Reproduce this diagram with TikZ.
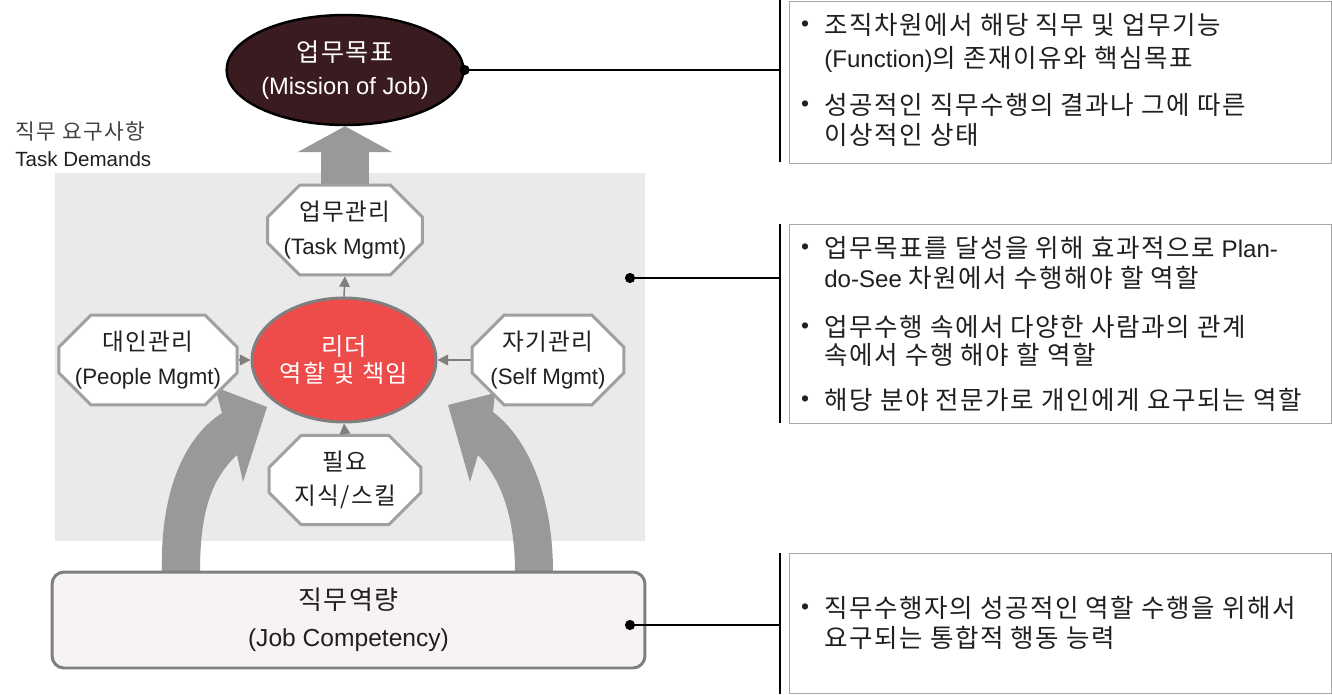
\documentclass[tikz,border=0pt]{standalone}
\usepackage{fontspec}
\setmainfont{Liberation Sans}
\newfontfamily\krfont[Scale=1.06,LetterSpace=6]{Noto Sans CJK KR}
\newcommand{\kor}[1]{{\krfont #1}}
\usetikzlibrary{shapes.geometric,shapes.misc,arrows.meta,backgrounds}

\definecolor{panelgray}{HTML}{EAEAEA}
\definecolor{arrowgray}{HTML}{999999}
\definecolor{tipgray}{HTML}{7F7F7F}
\definecolor{octgray}{HTML}{A0A0A0}
\definecolor{leaderred}{HTML}{EE4B4B}
\definecolor{missionbrown}{HTML}{3A1C20}
\definecolor{compfill}{HTML}{F7F3F5}
\definecolor{notegray}{HTML}{A6A6A6}
\definecolor{txt}{HTML}{231F20}

\tikzset{
  octbox/.style={chamfered rectangle, chamfered rectangle xsep=0.32cm,
    chamfered rectangle ysep=0.32cm, draw=octgray, line width=1.7pt,
    fill=white, minimum width=3.04cm, minimum height=1.68cm, inner sep=0pt,
    align=center, text=txt, font=\fontsize{12.7}{19}\selectfont},
  tiparrow/.style={draw=tipgray, line width=0.9pt,
    -{Triangle[length=6pt,width=6pt]}},
  link/.style={draw=black, line width=1.1pt},
  notebox/.style={draw=notegray, line width=0.8pt, fill=white,
    anchor=north west, minimum width=10.84cm, inner sep=0pt},
  notetext/.style={anchor=base west, inner sep=0pt, text=txt,
    font=\fontsize{13.7}{16}\selectfont},
  bulletmark/.style={inner sep=0pt, text=txt, font=\fontsize{13}{13}\selectfont}
}

\begin{document}
\begin{tikzpicture}[x=0.02cm, y=-0.02cm]
  \useasboundingbox (0,0) rectangle (1332,694);

  % goal, roles, competency
  \node[ellipse, draw=black, line width=1.4pt, fill=missionbrown, text=white,
    minimum width=4.08cm, minimum height=2.2cm, inner sep=0pt, align=center,
    font=\fontsize{13.5}{19}\selectfont] (mission) at (345,70)
    {\kor{업무목표}\\(Mission of Job)};
  \node[octbox] (task) at (345,230) {\kor{업무관리}\\(Task Mgmt)};
  \node[octbox] (people) at (148,360) {\kor{대인관리}\\(People Mgmt)};
  \node[octbox] (self) at (548,360) {\kor{자기관리}\\(Self Mgmt)};
  \node[octbox, minimum height=1.6cm] (skill) at (345,480)
    {\kor{필요}\\\kor{지식/스킬}};
  \node[ellipse, draw=tipgray, line width=1.7pt, fill=leaderred, text=white,
    minimum width=3.68cm, minimum height=2.48cm, inner sep=0pt, align=center,
    font=\fontsize{13}{15.5}\selectfont] (leader) at (344,360)
    {\kor{리더}\\\kor{역할 및 책임}};
  \node[rectangle, rounded corners=0.24cm, draw=tipgray, line width=1.7pt,
    fill=compfill, minimum width=11.86cm, minimum height=1.92cm, align=center,
    text=txt, font=\fontsize{14}{21}\selectfont] (comp) at (348.5,620)
    {\kor{직무역량}\\(Job Competency)};

  \node[anchor=base west, inner sep=0pt, text=txt!85,
    font=\fontsize{11.5}{11.5}\selectfont] (demandkr) at (15,139) {\kor{직무 요구사항}};
  \node[anchor=base west, inner sep=0pt, text=txt,
    font=\fontsize{11.7}{11.7}\selectfont] (demanden) at (15,166) {Task Demands};

  \draw[tiparrow] (leader.north) -- (task.south);
  \draw[tiparrow] (people.east) -- (leader.west);
  \draw[tiparrow] (self.west) -- (leader.east);
  \draw[tiparrow] (skill.north) -- (leader.south);

  % notes on the right
  \node[notebox, minimum height=3.24cm] (goalnote) at (789,1) {};
  \node[notebox, minimum height=3.98cm] (rolenote) at (789,224) {};
  \node[notebox, minimum height=2.8cm] (compnote) at (789,553) {};

  \foreach \y [count=\i] in {26,106,249,328,401,609}
    \node[bulletmark] (b\i) at (805,\y) {•};
  \foreach \y/\t [count=\i] in {
      34/{\kor{조직차원에서 해당 직무 및 업무기능}},
      67/{(Function)\kor{의 존재이유와 핵심목표}},
      114/{\kor{성공적인 직무수행의 결과나 그에 따른}},
      144/{\kor{이상적인 상태}},
      257/{\kor{업무목표를 달성을 위해 효과적으로} Plan-},
      287/{do-See \kor{차원에서 수행해야 할 역할}},
      336/{\kor{업무수행 속에서 다양한 사람과의 관계}},
      364/{\kor{속에서 수행 해야 할 역할}},
      409/{\kor{해당 분야 전문가로 개인에게 요구되는 역할}},
      617/{\kor{직무수행자의 성공적인 역할 수행을 위해서}},
      647/{\kor{요구되는 통합적 행동 능력}}}
    \node[notetext] (l\i) at (824,\y) {\t};

  \coordinate (gtop) at (780,0);
  \coordinate (gbot) at (780,162);
  \coordinate (rtop) at (780,224);
  \coordinate (rbot) at (780,423);
  \coordinate (ctop) at (780,553);
  \coordinate (cbot) at (780,694);
  \coordinate (pdot) at (630,278);
  \coordinate (cdot) at (630,625);
  \draw[link] (gtop) -- (gbot);
  \draw[link] (rtop) -- (rbot);
  \draw[link] (ctop) -- (cbot);
  \draw[link] (mission.east) -- (mission.east -| gtop);
  \draw[link] (pdot) -- (pdot -| rtop);
  \draw[link] (cdot) -- (cdot -| ctop);
  \fill (mission.east) circle (2.9pt);
  \fill (pdot) circle (2.9pt);
  \fill (cdot) circle (2.9pt);

  \begin{scope}[on background layer]
    \node[fill=panelgray, anchor=north west, minimum width=11.8cm,
      minimum height=7.36cm, inner sep=0pt] (panel) at (55,173) {};
    \draw[draw=arrowgray, line width=0.96cm,
      -{Triangle[length=0.52cm,width=1.9cm,line width=0pt]}]
      (task.north) -- (mission.south);
    % curved arrows from the competency box
    \fill[arrowgray] (162,585) -- (162,572) .. controls (160,500) and (180,440) .. (222,413)
      -- (215,387) -- (267,407) -- (243,482) -- (237,455)
      .. controls (210,480) and (200,515) .. (200,572) -- (200,585) -- cycle;
    \fill[arrowgray] (553,585) -- (553,572) .. controls (553,500) and (530,440) .. (493,412)
      -- (495,393) -- (448,405) -- (470,482) -- (478,455)
      .. controls (500,478) and (515,515) .. (515,572) -- (515,585) -- cycle;
  \end{scope}
\end{tikzpicture}
\end{document}
